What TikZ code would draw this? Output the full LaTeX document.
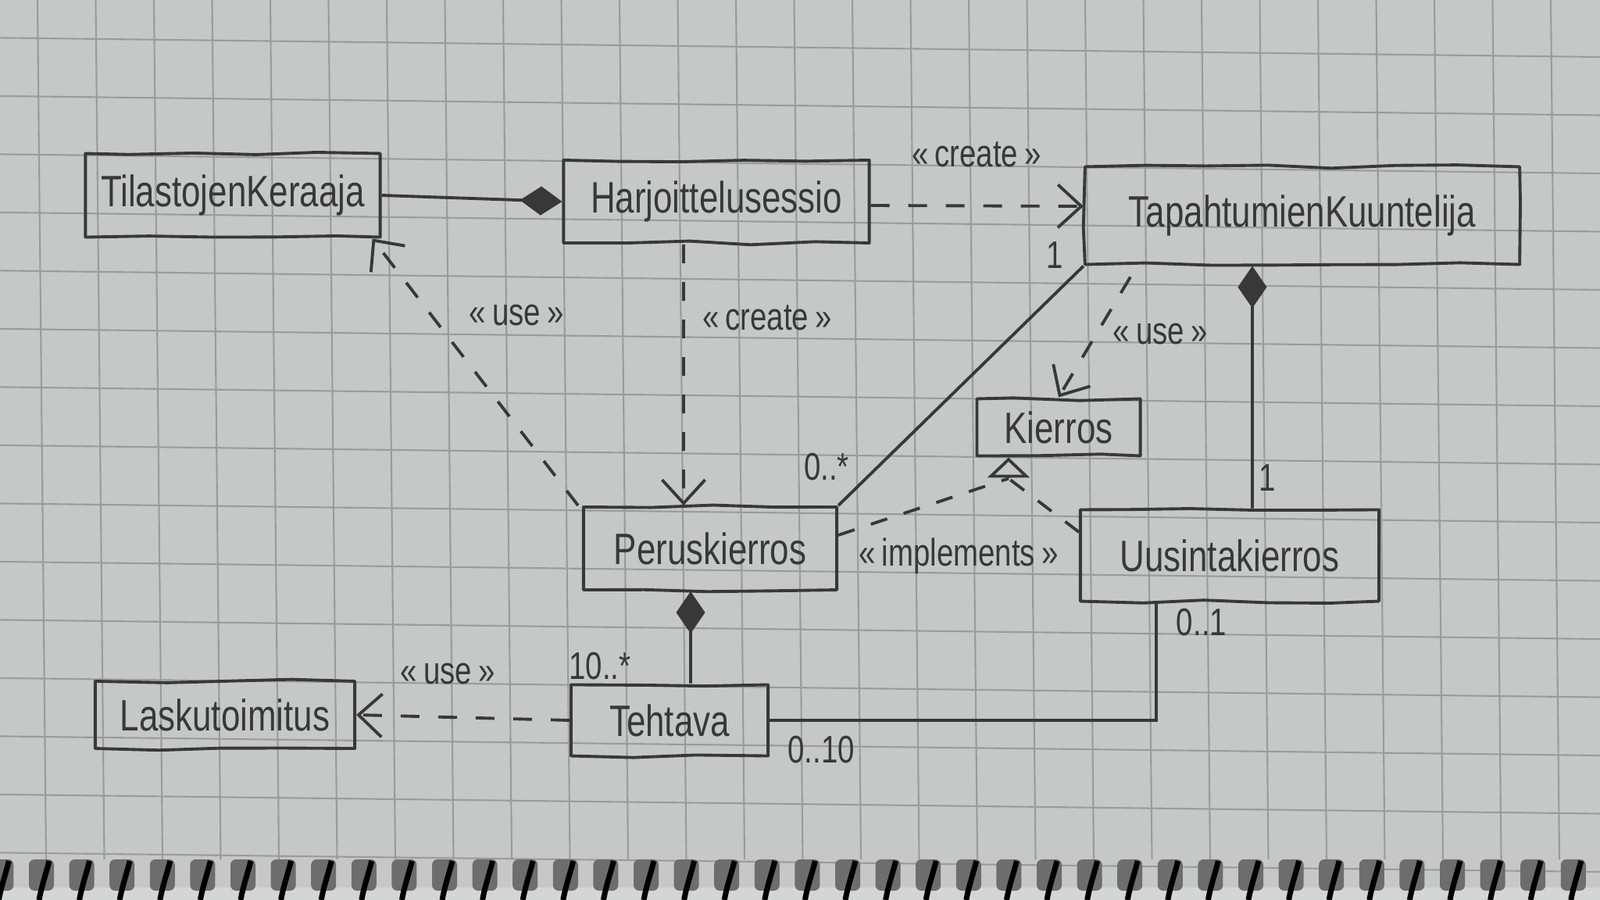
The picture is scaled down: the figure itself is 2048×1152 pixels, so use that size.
\documentclass[tikz,border=0pt]{standalone}
\usepackage{fontspec}
\newfontfamily\hand[FakeStretch=0.78]{Liberation Sans}
\usetikzlibrary{arrows.meta,calc,decorations.pathmorphing}
\definecolor{paper}{HTML}{C6C8C8}
\definecolor{gridc}{HTML}{9A9C9C}
\definecolor{ink}{HTML}{383838}
\definecolor{holec}{HTML}{6E6C6C}
\definecolor{bandc}{HTML}{D4D6D6}
\begin{document}
\begin{tikzpicture}[x=0.01cm,y=-0.01cm,
  cls/.style={draw=ink, line width=1.1pt, inner sep=0pt, text=ink, line join=round,
    font=\hand\fontsize{16}{18}\selectfont,
    decorate, decoration={random steps, segment length=8mm, amplitude=0.25mm}},
  lbl/.style={text=ink, font=\hand\fontsize{14}{16}\selectfont, inner sep=0pt},
  conn/.style={draw=ink, line width=1.1pt},
  dep/.style={conn, dash pattern=on 2.4mm off 2.4mm, -{Straight Barb[length=3mm,width=5.5mm]}},
  comp/.style={conn, -{Diamond[length=5.4mm,width=3.7mm]}},
  realz/.style={conn, dash pattern=on 2.2mm off 2.2mm},
  gridl/.style={draw=gridc, line width=0.6pt}]
\fill[paper] (0,0) rectangle (2048,1152);
\useasboundingbox (0,0) rectangle (2048,1152);
% graph paper
\foreach \k in {0,...,27} { \draw[gridl] ({48+74.5*\k},0) -- ({59+74.5*\k},1100); }
\foreach \k in {0,...,14} { \draw[gridl] (0,{48.4+74.5*\k}) -- (2048,{73+74.5*\k}); }
% spiral binding
\fill[bandc] (0,1136) rectangle (2048,1152);
\foreach \k in {-1,...,39} {
  \pgfmathsetmacro\cx{53+51.6*\k}
  \fill[holec, rounded corners=2pt] (\cx-16,1100) rectangle (\cx+16,1140);
  \draw[black, line width=2pt] (\cx+10,1102) .. controls (\cx+6,1118) and (\cx,1135) .. (\cx-3,1152);
}
% classes
\node[cls, minimum width=3.77cm, minimum height=1.07cm] (TK) at (298,250) {TilastojenKeraaja};
\node[cls, minimum width=3.91cm, minimum height=1.06cm] (HS) at (917,258) {Harjoittelusessio};
\node[cls, minimum width=5.56cm, minimum height=1.25cm] (TKu) at (1667,276) {TapahtumienKuuntelija};
\node[cls, minimum width=2.09cm, minimum height=0.73cm] (KI) at (1355,547) {Kierros};
\node[cls, minimum width=3.24cm, minimum height=1.06cm] (PK) at (909,702) {Peruskierros};
\node[cls, minimum width=3.82cm, minimum height=1.17cm] (UK) at (1574,711) {Uusintakierros};
\node[cls, minimum width=3.32cm, minimum height=0.86cm] (LT) at (288,915) {Laskutoimitus};
\node[cls, minimum width=2.52cm, minimum height=0.91cm] (TE) at (857,922) {Tehtava};
% connectors
\draw[comp] (TK.east) -- (HS.west);
\draw[dep] ([yshift=-0.05cm]HS.east) -- ([yshift=0.12cm]TKu.west);
\draw[dep] ([xshift=-0.42cm]HS.south) -- ([xshift=-0.34cm]PK.north);
\draw[dep] ([xshift=-0.05cm]PK.north west) -- ([xshift=-0.12cm]TK.south east);
\draw[conn] (TKu.south west) -- (PK.north east);
\draw[dep] ([xshift=0.6cm,yshift=-0.14cm]TKu.south west) -- (KI.north);
\draw[comp] ([xshift=0.29cm]UK.north) -- ([xshift=-0.64cm]TKu.south);
\coordinate (tri) at ([xshift=-0.64cm,yshift=-0.27cm]KI.south);
\draw[realz] ([yshift=0.17cm]PK.east) -- (tri);
\draw[realz] ([yshift=0.3cm]UK.west) -- (tri);
\draw[conn, -{Triangle[open,length=2.6mm,width=5.4mm]}] (tri) -- (tri |- KI.south);
\draw[dep] (TE.west) -- (LT.east);
\draw[comp] ([xshift=0.27cm]TE.north) -- ([xshift=-0.25cm]PK.south);
\draw[conn] (TE.east) -| ([xshift=-0.94cm]UK.south);
% labels
\node[lbl] (s1) at (1250,198) {«\,create\,»};
\node[lbl] (s2) at (982,407) {«\,create\,»};
\node[lbl] (s3) at (661,403) {«\,use\,»};
\node[lbl] (s4) at (1485,427) {«\,use\,»};
\node[lbl] (s5) at (1227,712) {«\,implements\,»};
\node[lbl] (s6) at (573,862) {«\,use\,»};
\node[lbl] (m1) at (1350,327) {1};
\node[lbl] (m2) at (1058,598) {0..*};
\node[lbl] (m3) at (1622,612) {1};
\node[lbl] (m4) at (768,853) {10..*};
\node[lbl] (m5) at (1538,797) {0..1};
\node[lbl] (m6) at (1051,960) {0..10};
\end{tikzpicture}
\end{document}
